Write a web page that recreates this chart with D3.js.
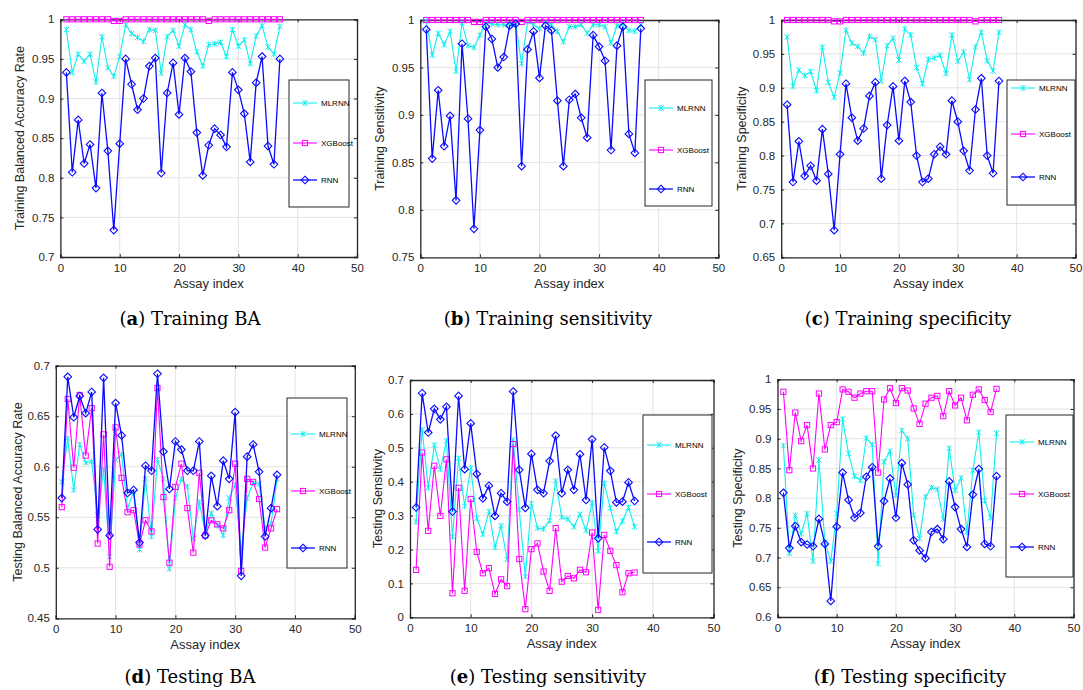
<!DOCTYPE html>
<html>
<head>
<meta charset="utf-8">
<script src="https://cdn.jsdelivr.net/npm/d3@7"></script>
<style>
  body { margin: 0; background: #fff; }
  svg { display: block; }
</style>
</head>
<body>
<svg id="chart" width="1083" height="690"></svg>
<script>
// assay index shared by every panel
const assayIndex = [1,2,3,4,5,6,7,8,9,10,11,12,13,14,15,16,17,18,19,20,21,22,23,24,25,26,27,28,29,30,31,32,33,34,35,36,37];
const xTicks = [0, 10, 20, 30, 40, 50];
const seriesNames = ["MLRNN", "XGBoost", "RNN"];

// (a) training balanced accuracy
const trainBaMlrnn = [0.987,0.933,0.956,0.947,0.956,0.921,0.978,0.939,0.928,0.953,0.993,0.982,0.977,0.972,0.987,0.986,0.932,0.978,0.986,0.966,0.993,0.987,0.959,0.941,0.968,0.969,0.971,0.953,0.987,0.966,0.974,0.944,0.979,0.992,0.965,0.956,0.991];
const trainBaXgb = [1,1,1,1,1,1,1,1,0.998,0.998,1,1,1,1,1,1,1,1,1,1,1,1,1,1,0.998,1,1,1,1,1,1,1,1,1,1,1,1];
const trainBaRnn = [0.933,0.807,0.873,0.818,0.842,0.787,0.907,0.834,0.734,0.843,0.950,0.918,0.886,0.900,0.941,0.951,0.806,0.907,0.945,0.880,0.951,0.934,0.857,0.803,0.841,0.862,0.854,0.839,0.933,0.911,0.881,0.820,0.920,0.953,0.840,0.817,0.950];
const trainBaTicks = [0.7,0.75,0.8,0.85,0.9,0.95,1];

// (b) training sensitivity
const trainSensMlrnn = [0.999,0.963,0.986,0.974,0.988,0.946,0.997,0.973,0.971,0.984,0.997,0.996,0.995,0.995,0.995,0.995,0.954,0.998,0.995,0.991,0.998,0.995,0.988,0.977,0.993,0.993,0.995,0.986,0.995,0.995,0.993,0.976,0.994,0.996,0.989,0.988,0.995];
const trainSensXgb = [1,1,1,1,1,1,1,1,0.998,0.998,1,1,1,1,1,1,0.998,1,1,1,1,1,1,1,1,1,1,1,1,1,1,1,1,1,1,1,1];
const trainSensRnn = [0.990,0.854,0.926,0.867,0.899,0.810,0.975,0.896,0.780,0.884,0.993,0.980,0.950,0.961,0.994,0.996,0.846,0.969,0.988,0.939,0.994,0.989,0.915,0.846,0.916,0.922,0.897,0.876,0.984,0.972,0.957,0.863,0.973,0.993,0.880,0.860,0.991];
const trainSensTicks = [0.75,0.8,0.85,0.9,0.95,1];

// (c) training specificity
const trainSpecMlrnn = [0.975,0.902,0.926,0.918,0.924,0.896,0.960,0.908,0.886,0.922,0.985,0.966,0.961,0.951,0.976,0.971,0.910,0.962,0.973,0.941,0.987,0.978,0.930,0.906,0.942,0.944,0.948,0.921,0.978,0.939,0.953,0.912,0.960,0.982,0.940,0.925,0.982];
const trainSpecXgb = [1,1,1,1,1,1,1,1,0.998,0.998,1,1,1,1,1,1,1,1,1,1,1,1,1,1,1,1,1,1,1,1,1,1,0.998,1,1,1,1];
const trainSpecRnn = [0.875,0.761,0.821,0.770,0.785,0.763,0.839,0.773,0.690,0.802,0.906,0.856,0.822,0.840,0.888,0.908,0.766,0.845,0.902,0.822,0.910,0.879,0.800,0.761,0.766,0.802,0.813,0.802,0.881,0.850,0.807,0.778,0.868,0.914,0.800,0.774,0.910];
const trainSpecTicks = [0.65,0.7,0.75,0.8,0.85,0.9,0.95,1];

// (d) testing balanced accuracy
const testBaMlrnn = [0.585,0.628,0.577,0.622,0.604,0.605,0.552,0.597,0.511,0.607,0.612,0.559,0.575,0.518,0.588,0.531,0.607,0.588,0.499,0.569,0.588,0.580,0.529,0.565,0.534,0.554,0.542,0.532,0.569,0.582,0.516,0.569,0.584,0.583,0.539,0.544,0.588];
const testBaXgb = [0.560,0.667,0.599,0.671,0.611,0.658,0.524,0.632,0.501,0.639,0.589,0.555,0.557,0.523,0.547,0.536,0.678,0.570,0.505,0.580,0.603,0.559,0.515,0.594,0.532,0.547,0.543,0.539,0.557,0.603,0.497,0.588,0.585,0.568,0.520,0.539,0.558];
const testBaRnn = [0.569,0.689,0.649,0.670,0.653,0.674,0.538,0.688,0.532,0.663,0.631,0.574,0.577,0.525,0.601,0.596,0.692,0.615,0.578,0.625,0.617,0.596,0.596,0.625,0.532,0.591,0.561,0.606,0.588,0.654,0.492,0.610,0.622,0.595,0.531,0.559,0.592];
const testBaTicks = [0.45,0.5,0.55,0.6,0.65,0.7];

// (e) testing sensitivity
const testSensMlrnn = [0.282,0.553,0.382,0.508,0.437,0.520,0.238,0.469,0.328,0.440,0.292,0.245,0.312,0.206,0.270,0.171,0.523,0.317,0.120,0.336,0.263,0.261,0.285,0.402,0.295,0.290,0.267,0.304,0.256,0.338,0.196,0.395,0.322,0.253,0.284,0.324,0.267];
const testSensXgb = [0.140,0.486,0.255,0.447,0.299,0.466,0.071,0.382,0.078,0.349,0.193,0.130,0.145,0.069,0.112,0.092,0.511,0.172,0.024,0.201,0.218,0.135,0.078,0.263,0.105,0.122,0.115,0.140,0.133,0.250,0.022,0.243,0.196,0.154,0.074,0.130,0.132];
const testSensRnn = [0.324,0.661,0.545,0.615,0.584,0.621,0.312,0.653,0.437,0.572,0.423,0.351,0.388,0.299,0.366,0.341,0.666,0.435,0.323,0.482,0.376,0.366,0.461,0.536,0.366,0.435,0.376,0.481,0.346,0.525,0.233,0.501,0.432,0.339,0.341,0.398,0.343];
const testSensTicks = [0,0.1,0.2,0.3,0.4,0.5,0.6,0.7];

// (f) testing specificity
const testSpecMlrnn = [0.888,0.707,0.771,0.740,0.774,0.694,0.864,0.726,0.694,0.774,0.933,0.875,0.837,0.830,0.901,0.890,0.690,0.861,0.879,0.805,0.914,0.900,0.772,0.732,0.802,0.818,0.815,0.765,0.884,0.813,0.834,0.743,0.847,0.911,0.796,0.767,0.909];
const testSpecXgb = [0.979,0.847,0.944,0.896,0.923,0.850,0.976,0.882,0.923,0.928,0.983,0.979,0.969,0.976,0.980,0.980,0.843,0.966,0.985,0.960,0.985,0.981,0.951,0.925,0.959,0.969,0.972,0.938,0.980,0.956,0.969,0.931,0.974,0.983,0.965,0.945,0.984];
const testSpecRnn = [0.809,0.716,0.753,0.726,0.722,0.719,0.765,0.723,0.627,0.752,0.843,0.797,0.767,0.775,0.836,0.852,0.719,0.795,0.833,0.767,0.859,0.823,0.729,0.712,0.699,0.743,0.748,0.731,0.828,0.785,0.748,0.718,0.806,0.849,0.723,0.719,0.837];
const testSpecTicks = [0.6,0.65,0.7,0.75,0.8,0.85,0.9,0.95,1];

const COLORS = { MLRNN: "#12eeee", XGBoost: "#ff00ff", RNN: "#0a0aff" };
const GRID = "#e3e3e3";
const AXIS = "#262626";

// layout of each subplot (pixel frame, legend box, caption)
const panels = [
  { letter: "a", caption: "Training BA", yLabel: "Training Balanced Accuracy Rate",
    series: [trainBaMlrnn, trainBaXgb, trainBaRnn], ticks: trainBaTicks,
    x0: 60.4, x1: 357, top: 19.3, bottom: 257, labelX: 20,
    legend: [289, 80, 349, 207], legendY: [103, 143, 180], capX: 190, capY: 325 },
  { letter: "b", caption: "Training sensitivity", yLabel: "Training Sensitivity",
    series: [trainSensMlrnn, trainSensXgb, trainSensRnn], ticks: trainSensTicks,
    x0: 420.3, x1: 718.3, top: 20, bottom: 257.3, labelX: 380,
    legend: [645, 80, 712, 206], legendY: [108, 150, 189], capX: 548, capY: 325 },
  { letter: "c", caption: "Training specificity", yLabel: "Training Specificity",
    series: [trainSpecMlrnn, trainSpecXgb, trainSpecRnn], ticks: trainSpecTicks,
    x0: 781.2, x1: 1075.5, top: 20, bottom: 257.3, labelX: 742,
    legend: [1007, 80, 1075, 205], legendY: [88, 134, 177], capX: 908, capY: 325 },
  { letter: "d", caption: "Testing BA", yLabel: "Testing Balanced Accuracy Rate",
    series: [testBaMlrnn, testBaXgb, testBaRnn], ticks: testBaTicks,
    x0: 55.8, x1: 354.8, top: 365.7, bottom: 618.3, labelX: 18,
    legend: [287, 398, 347, 568], legendY: [434, 491, 548], capX: 190, capY: 683 },
  { letter: "e", caption: "Testing sensitivity", yLabel: "Testing Sensitivity",
    series: [testSensMlrnn, testSensXgb, testSensRnn], ticks: testSensTicks,
    x0: 410, x1: 713.5, top: 380, bottom: 617.3, labelX: 378,
    legend: [643, 415, 712, 573], legendY: [445, 494, 542], capX: 548, capY: 683 },
  { letter: "f", caption: "Testing specificity", yLabel: "Testing Specificity",
    series: [testSpecMlrnn, testSpecXgb, testSpecRnn], ticks: testSpecTicks,
    x0: 777.5, x1: 1073.5, top: 379.3, bottom: 617, labelX: 738,
    legend: [1006, 415, 1073, 577], legendY: [442, 494, 547], capX: 910, capY: 683 },
];

const svg = d3.select("#chart");
const fmt = (v) => String(+v.toFixed(2));

function drawMarker(g, name, cx, cy) {
  const c = COLORS[name];
  if (name === "RNN") {
    const r = 3.8;
    g.append("path")
      .attr("d", `M${cx},${cy - r}L${cx + r},${cy}L${cx},${cy + r}L${cx - r},${cy}Z`)
      .attr("fill", "none").attr("stroke", c).attr("stroke-width", 1.1);
  } else if (name === "XGBoost") {
    const s = 2.6;
    g.append("rect")
      .attr("x", cx - s).attr("y", cy - s).attr("width", 2 * s).attr("height", 2 * s)
      .attr("fill", "none").attr("stroke", c).attr("stroke-width", 1);
  } else {
    const s = 2.6;
    g.append("path")
      .attr("d", `M${cx - s},${cy - s}L${cx + s},${cy + s}M${cx - s},${cy + s}L${cx + s},${cy - s}M${cx},${cy - s - 0.4}L${cx},${cy + s + 0.4}`)
      .attr("fill", "none").attr("stroke", c).attr("stroke-width", 1);
  }
}

panels.forEach((p) => {
  const x = d3.scaleLinear().domain([0, 50]).range([p.x0, p.x1]);
  const yMin = p.ticks[0], yMax = p.ticks[p.ticks.length - 1];
  const y = d3.scaleLinear().domain([yMin, yMax]).range([p.bottom, p.top]);
  const g = svg.append("g");

  // grid
  g.append("g").selectAll("line.gx").data(xTicks.slice(1, -1)).join("line")
    .attr("x1", (d) => x(d)).attr("x2", (d) => x(d))
    .attr("y1", p.top).attr("y2", p.bottom)
    .attr("stroke", GRID).attr("stroke-width", 1);
  g.append("g").selectAll("line.gy").data(p.ticks.slice(1, -1)).join("line")
    .attr("x1", p.x0).attr("x2", p.x1)
    .attr("y1", (d) => y(d)).attr("y2", (d) => y(d))
    .attr("stroke", GRID).attr("stroke-width", 1);

  // axes (ticks point inward, box on)
  const tk = 3;
  const axB = g.append("g").attr("transform", `translate(0,${p.bottom})`)
    .call(d3.axisBottom(x).tickValues(xTicks).tickSize(-tk).tickPadding(7).tickFormat(d3.format("d")));
  const axT = g.append("g").attr("transform", `translate(0,${p.top})`)
    .call(d3.axisTop(x).tickValues(xTicks).tickSize(-tk).tickFormat(""));
  const axL = g.append("g").attr("transform", `translate(${p.x0},0)`)
    .call(d3.axisLeft(y).tickValues(p.ticks).tickSize(-tk).tickPadding(6).tickFormat(fmt));
  const axR = g.append("g").attr("transform", `translate(${p.x1},0)`)
    .call(d3.axisRight(y).tickValues(p.ticks).tickSize(-tk).tickFormat(""));
  [axB, axT, axL, axR].forEach((a) => {
    a.select(".domain").attr("stroke", AXIS).attr("stroke-width", 1.3);
    a.selectAll(".tick line").attr("stroke", AXIS);
    a.selectAll("text").attr("fill", AXIS)
      .style("font-family", "'Liberation Sans', Arial, sans-serif").style("font-size", "11.5px");
  });

  // axis labels
  g.append("text")
    .attr("x", (p.x0 + p.x1) / 2).attr("y", p.bottom + 31)
    .attr("text-anchor", "middle").attr("fill", AXIS)
    .style("font-family", "'Liberation Sans', Arial, sans-serif").style("font-size", "13px")
    .text("Assay index");
  g.append("text")
    .attr("transform", `translate(${p.labelX},${(p.top + p.bottom) / 2}) rotate(-90)`)
    .attr("text-anchor", "middle").attr("dy", "0.35em").attr("fill", AXIS)
    .style("font-family", "'Liberation Sans', Arial, sans-serif").style("font-size", "12.5px")
    .text(p.yLabel);

  // series: MLRNN, XGBoost, RNN (RNN drawn last, on top)
  seriesNames.forEach((name, si) => {
    const vals = p.series[si];
    const line = d3.line().x((d, i) => x(assayIndex[i])).y((d) => y(d));
    g.append("path").datum(vals).attr("d", line)
      .attr("fill", "none").attr("stroke", COLORS[name])
      .attr("stroke-width", name === "RNN" ? 1.3 : 1.1);
    const mg = g.append("g");
    vals.forEach((v, i) => drawMarker(mg, name, x(assayIndex[i]), y(v)));
  });

  // legend
  const [lx0, ly0, lx1, ly1] = p.legend;
  g.append("rect")
    .attr("x", lx0).attr("y", ly0).attr("width", lx1 - lx0).attr("height", ly1 - ly0)
    .attr("fill", "#fff").attr("stroke", AXIS).attr("stroke-width", 1);
  seriesNames.forEach((name, si) => {
    const ly = p.legendY[si];
    g.append("line")
      .attr("x1", lx0 + 4).attr("x2", lx0 + 28).attr("y1", ly).attr("y2", ly)
      .attr("stroke", COLORS[name]).attr("stroke-width", name === "RNN" ? 1.3 : 1.1);
    drawMarker(g, name, lx0 + 16, ly);
    g.append("text")
      .attr("x", lx0 + 32).attr("y", ly).attr("dy", "0.35em").attr("fill", "#000")
      .style("font-family", "'Liberation Sans', Arial, sans-serif").style("font-size", "8px")
      .text(name);
  });

  // caption
  const cap = svg.append("text")
    .attr("x", p.capX).attr("y", p.capY).attr("text-anchor", "middle").attr("fill", "#000")
    .style("font-family", "'DejaVu Serif', 'Liberation Serif', serif").style("font-size", "18px");
  cap.append("tspan").text("(");
  cap.append("tspan").attr("font-weight", "bold").text(p.letter);
  cap.append("tspan").text(") " + p.caption);
});
</script>
</body>
</html>
